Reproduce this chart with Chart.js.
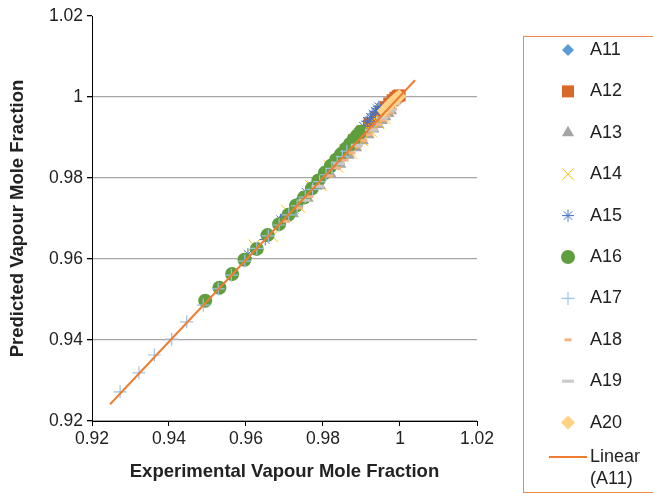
<!DOCTYPE html>
<html>
<head>
<meta charset="utf-8">
<script src="https://cdn.jsdelivr.net/npm/chart.js@4"></script>
<style>
  html, body { margin: 0; padding: 0; background: #fff; }
  canvas { display: block; }
</style>
</head>
<body>
<canvas id="parity" width="653" height="493"></canvas>
<script>
// experimental (x) vs predicted (y) vapour mole fraction, one pair of arrays per run
const seriesNames = ['A11', 'A12', 'A13', 'A14', 'A15', 'A16', 'A17', 'A18', 'A19', 'A20'];

const a11X = [0.9655, 0.9700, 0.9740, 0.9772, 0.9800, 0.9826, 0.9850, 0.9871, 0.9890, 0.9907, 0.9922, 0.9936, 0.9948, 0.9959, 0.9968, 0.9976, 0.9983, 0.9989];
const a11Y = [0.9660, 0.9704, 0.9745, 0.9778, 0.9806, 0.9832, 0.9857, 0.9878, 0.9898, 0.9915, 0.9931, 0.9945, 0.9957, 0.9968, 0.9977, 0.9985, 0.9991, 0.9996];

const a12X = [0.9880, 0.9902, 0.9921, 0.9937, 0.9950, 0.9962, 0.9972, 0.9981, 0.9988, 0.9994, 0.9999];
const a12Y = [0.9893, 0.9915, 0.9934, 0.9950, 0.9963, 0.9975, 0.9984, 0.9992, 0.9998, 1.0002, 1.0004];

const a13X = [0.9722, 0.9760, 0.9792, 0.9820, 0.9845, 0.9867, 0.9886, 0.9903, 0.9918, 0.9931, 0.9943, 0.9953, 0.9962, 0.9970, 0.9977];
const a13Y = [0.9712, 0.9750, 0.9781, 0.9809, 0.9834, 0.9856, 0.9875, 0.9892, 0.9907, 0.9921, 0.9932, 0.9942, 0.9951, 0.9959, 0.9966];

const a14X = [0.9621, 0.9668, 0.9706, 0.9739, 0.9768, 0.9794, 0.9817, 0.9838, 0.9857, 0.9874, 0.9889, 0.9903, 0.9915, 0.9926, 0.9936, 0.9945, 0.9953, 0.9960];
const a14Y = [0.9634, 0.9656, 0.9720, 0.9728, 0.9781, 0.9782, 0.9830, 0.9827, 0.9870, 0.9862, 0.9902, 0.9892, 0.9928, 0.9914, 0.9949, 0.9934, 0.9966, 0.9948];

const a15X = [0.9605, 0.9650, 0.9690, 0.9725, 0.9756, 0.9784, 0.9808, 0.9830, 0.9849, 0.9866, 0.9881, 0.9894, 0.9905, 0.9915, 0.9923, 0.9930, 0.9936, 0.9941, 0.9945];
const a15Y = [0.9612, 0.9648, 0.9697, 0.9722, 0.9765, 0.9782, 0.9818, 0.9830, 0.9861, 0.9870, 0.9898, 0.9912, 0.9928, 0.9940, 0.9950, 0.9958, 0.9965, 0.9971, 0.9976];

const a16X = [0.9494, 0.9531, 0.9564, 0.9596, 0.9628, 0.9656, 0.9686, 0.9710, 0.9730, 0.9751, 0.9771, 0.9788, 0.9805, 0.9820, 0.9834, 0.9847, 0.9859, 0.9870, 0.9880, 0.9889, 0.9897];
const a16Y = [0.9497, 0.9529, 0.9563, 0.9598, 0.9625, 0.9659, 0.9686, 0.9709, 0.9732, 0.9752, 0.9774, 0.9794, 0.9813, 0.9830, 0.9845, 0.9859, 0.9872, 0.9884, 0.9895, 0.9905, 0.9914];

const a17X = [0.9273, 0.9322, 0.9362, 0.9407, 0.9446, 0.9489, 0.9528, 0.9562, 0.9597, 0.9628, 0.9658, 0.9686, 0.9711, 0.9733, 0.9754, 0.9773, 0.9791, 0.9808, 0.9823, 0.9837, 0.9850, 0.9862];
const a17Y = [0.9272, 0.9319, 0.9363, 0.9402, 0.9445, 0.9486, 0.9526, 0.9560, 0.9595, 0.9626, 0.9657, 0.9684, 0.9709, 0.9731, 0.9753, 0.9772, 0.9791, 0.9808, 0.9824, 0.9839, 0.9853, 0.9866];

const a18X = [0.9705, 0.9738, 0.9766, 0.9793, 0.9818, 0.9838, 0.9857, 0.9875, 0.9891, 0.9906, 0.9920, 0.9933, 0.9945, 0.9956, 0.9966, 0.9975, 0.9983];
const a18Y = [0.9693, 0.9726, 0.9754, 0.9780, 0.9805, 0.9825, 0.9844, 0.9862, 0.9878, 0.9893, 0.9907, 0.9920, 0.9932, 0.9943, 0.9953, 0.9962, 0.9970];

const a19X = [0.9752, 0.9786, 0.9842, 0.9888, 0.9925, 0.9953, 0.9972, 0.9986];
const a19Y = [0.9745, 0.9779, 0.9835, 0.9881, 0.9918, 0.9948, 0.9968, 0.9983];

const a20X = [0.9958, 0.9968, 0.9977, 0.9985, 0.9992, 0.9998];
const a20Y = [0.9966, 0.9976, 0.9985, 0.9992, 0.9998, 1.0002];

const seriesX = [a11X, a12X, a13X, a14X, a15X, a16X, a17X, a18X, a19X, a20X];
const seriesY = [a11Y, a12Y, a13Y, a14Y, a15Y, a16Y, a17Y, a18Y, a19Y, a20Y];

// linear fit of A11 and the x span it is drawn over
const trendSlope = 1.0101;
const trendIntercept = -0.0099;
const trendRange = [0.9247, 1.0039];

const axisTicks = [0.92, 0.94, 0.96, 0.98, 1.00, 1.02];

// marker look per run
const markers = [
  { style: 'rectRot',  radius: 6,   color: '#5B9BD5', line: 0 },
  { style: 'rect',     radius: 8.5, color: '#D9682A', line: 0 },
  { style: 'triangle', radius: 7,   color: '#A5A5A5', line: 0 },
  { style: 'crossRot', radius: 8,   color: '#FFC000', line: 1 },
  { style: 'star',     radius: 6,   color: '#4472C4', line: 1 },
  { style: 'circle',   radius: 7,   color: '#5E9E3E', line: 0 },
  { style: 'cross',    radius: 6.5, color: '#9DC3E6', line: 1.2 },
  { style: 'line',     radius: 3.5, color: '#F4B183', line: 3 },
  { style: 'line',     radius: 6,   color: '#C9C9C9', line: 3 },
  { style: 'rectRot',  radius: 7,   color: '#FFD285', line: 0 }
];
const trendColor = '#ED7D31';

const FONT = "'Liberation Sans', Arial, sans-serif";
Chart.defaults.font.family = FONT;
Chart.defaults.color = '#222';

const datasets = seriesNames.map((name, i) => {
  const m = markers[i];
  return {
    label: name,
    data: seriesX[i].map((x, k) => ({ x: x, y: seriesY[i][k] })),
    pointStyle: m.style,
    pointRadius: m.radius,
    pointHoverRadius: m.radius,
    backgroundColor: m.color,
    borderColor: m.color,
    pointBorderWidth: m.line,
    order: 20 - i
  };
});

datasets.push({
  type: 'line',
  label: 'Linear (A11)',
  data: trendRange.map(x => ({ x: x, y: trendSlope * x + trendIntercept })),
  borderColor: trendColor,
  borderWidth: 2,
  pointRadius: 0,
  fill: false,
  order: 0
});

// legend in its own orange frame on the right
const boxedLegend = {
  id: 'boxedLegend',
  afterDraw(chart) {
    const ctx = chart.ctx;
    ctx.save();
    ctx.strokeStyle = '#EE8A4A';
    ctx.lineWidth = 1;
    ctx.strokeRect(523.5, 36.5, 150, 456);

    ctx.font = '18px ' + FONT;
    ctx.textBaseline = 'middle';
    ctx.textAlign = 'left';
    seriesNames.forEach((name, i) => {
      const m = markers[i];
      const y = 50 + i * 41.4;
      ctx.fillStyle = m.color;
      ctx.strokeStyle = m.color;
      ctx.lineWidth = m.line;
      Chart.helpers.drawPoint(ctx, { pointStyle: m.style, radius: m.radius, rotation: 0, borderWidth: m.line }, 568, y);
      ctx.fillStyle = '#222';
      ctx.fillText(name, 590, y);
    });

    ctx.strokeStyle = trendColor;
    ctx.lineWidth = 2;
    ctx.beginPath();
    ctx.moveTo(549, 457);
    ctx.lineTo(587, 457);
    ctx.stroke();
    ctx.fillStyle = '#222';
    ctx.fillText('Linear', 590, 457);
    ctx.fillText('(A11)', 590, 479);
    ctx.restore();
  }
};

const tickFont = { size: 17.5 };
const tickLabel = v => String(+Number(v).toFixed(2));

new Chart(document.getElementById('parity'), {
  type: 'scatter',
  data: { datasets: datasets },
  options: {
    responsive: false,
    animation: false,
    layout: { padding: { top: 16, right: 176, left: 0, bottom: 0 } },
    plugins: {
      legend: { display: false },
      tooltip: { enabled: false }
    },
    scales: {
      x: {
        type: 'linear',
        min: axisTicks[0],
        max: axisTicks[axisTicks.length - 1],
        afterBuildTicks: s => { s.ticks = axisTicks.map(v => ({ value: v })); },
        ticks: { font: tickFont, color: '#222', padding: 3, maxRotation: 0, callback: tickLabel },
        grid: { drawOnChartArea: false, tickLength: 5, tickColor: '#000' },
        border: { color: '#000', width: 1 },
        title: {
          display: true,
          text: 'Experimental Vapour Mole Fraction',
          font: { size: 18.5, weight: 'bold' },
          color: '#222',
          padding: { top: 0, bottom: 10 }
        },
        afterFit: s => { s.height = 72; }
      },
      y: {
        type: 'linear',
        min: axisTicks[0],
        max: axisTicks[axisTicks.length - 1],
        afterBuildTicks: s => { s.ticks = axisTicks.map(v => ({ value: v })); },
        ticks: { font: tickFont, color: '#222', padding: 4, callback: tickLabel },
        grid: {
          color: c => (c.tick && Math.abs(c.tick.value - 1.02) < 1e-6) ? 'rgba(0,0,0,0)' : '#A6A6A6',
          lineWidth: 1.3,
          tickLength: 5,
          tickColor: '#000'
        },
        border: { color: '#000', width: 1 },
        title: {
          display: true,
          text: 'Predicted Vapour Mole Fraction',
          font: { size: 18.5, weight: 'bold' },
          color: '#222',
          padding: { top: 7, bottom: 0 }
        },
        afterFit: s => { s.width = 92; }
      }
    }
  },
  plugins: [boxedLegend]
});
</script>
</body>
</html>
